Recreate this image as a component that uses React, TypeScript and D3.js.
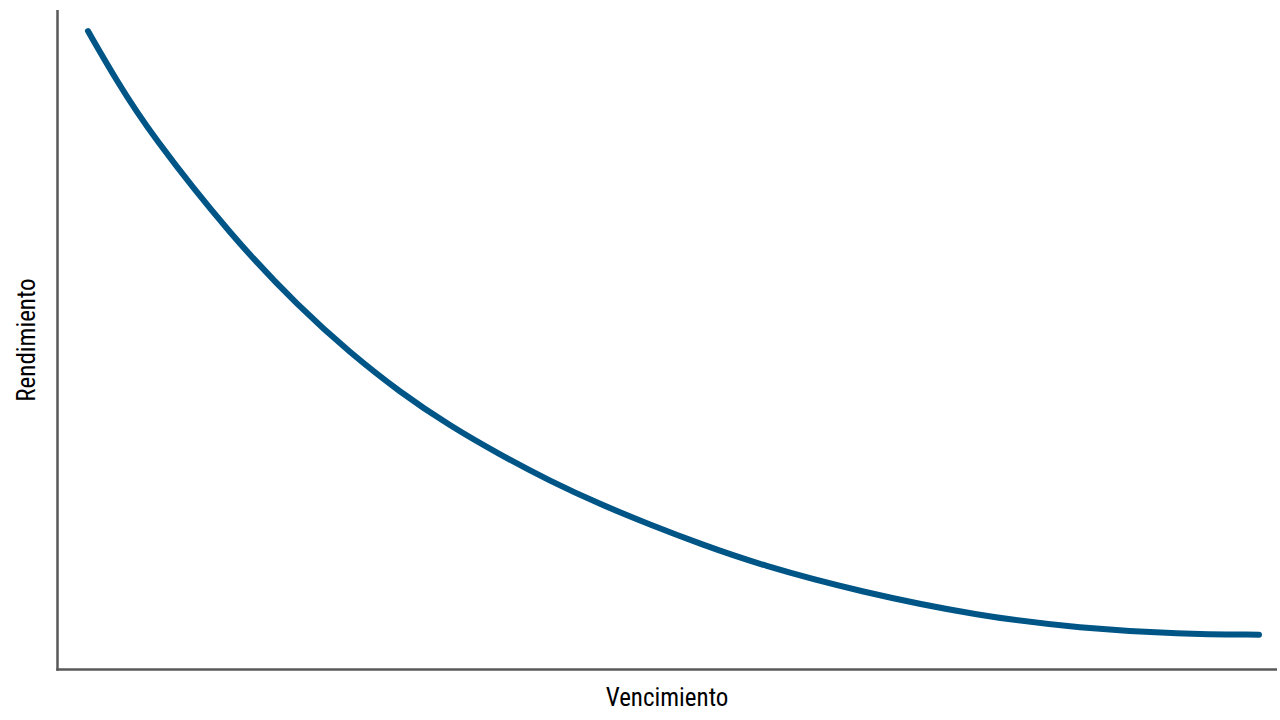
import React, { useEffect, useRef } from 'react';
import * as d3 from 'd3';

// maturity (years) and yield (%)
const maturities = [0, 0.74, 1.59, 3.71, 5.43, 6.71, 7.99, 9.27, 10.56, 11.84, 13.12, 14.4, 15.68, 17.22, 19.78, 22.85, 25.41, 27.98, 30];
const yields = [9.68, 8.92, 8.13, 6.54, 5.48, 4.8, 4.2, 3.69, 3.25, 2.85, 2.5, 2.19, 1.9, 1.58, 1.17, 0.8, 0.62, 0.53, 0.52];

const xLabel = 'Vencimiento';
const yLabel = 'Rendimiento';

const W = 1280;
const H = 720;

export default function App() {
  const svgRef = useRef<SVGSVGElement>(null);

  useEffect(() => {
    if (!svgRef.current) return;
    const svg = d3.select(svgRef.current);
    svg.selectAll('*').remove();

    const axisX = 57.5;
    const axisY = 669.5;

    const x = d3.scaleLinear().domain([0, 30]).range([88, 1259]);
    const y = d3.scaleLinear().domain([0, 10]).range([669, 10]);

    const font = "'Roboto Condensed', 'Liberation Sans Narrow', Roboto, sans-serif";

    // axes (no ticks)
    svg.append('line')
      .attr('x1', axisX).attr('x2', axisX)
      .attr('y1', 10).attr('y2', axisY + 1.2)
      .attr('stroke', '#595959').attr('stroke-width', 2.5);
    svg.append('line')
      .attr('x1', axisX - 1.2).attr('x2', 1277)
      .attr('y1', axisY).attr('y2', axisY)
      .attr('stroke', '#595959').attr('stroke-width', 2.5);

    const pts = maturities.map((m, i) => [m, yields[i]] as [number, number]);
    const line = d3.line<[number, number]>()
      .x(d => x(d[0]))
      .y(d => y(d[1]))
      .curve(d3.curveBasis);

    svg.append('path')
      .datum(pts)
      .attr('d', line)
      .attr('fill', 'none')
      .attr('stroke', '#005587')
      .attr('stroke-width', 6)
      .attr('stroke-linecap', 'round');

    svg.append('text')
      .attr('x', 667).attr('y', 706)
      .attr('text-anchor', 'middle')
      .style('font-family', font)
      .style('font-stretch', 'condensed')
      .style('font-size', '25px')
      .attr('fill', '#000')
      .text(xLabel);

    svg.append('text')
      .attr('transform', 'translate(35,340) rotate(-90)')
      .attr('text-anchor', 'middle')
      .style('font-family', font)
      .style('font-stretch', 'condensed')
      .style('font-size', '25px')
      .attr('fill', '#000')
      .text(yLabel);
  }, []);

  return (
    <div style={{ position: 'absolute', left: 0, top: 0, width: W, height: H, background: '#fff' }}>
      <svg ref={svgRef} width={W} height={H} style={{ display: 'block' }} />
    </div>
  );
}
